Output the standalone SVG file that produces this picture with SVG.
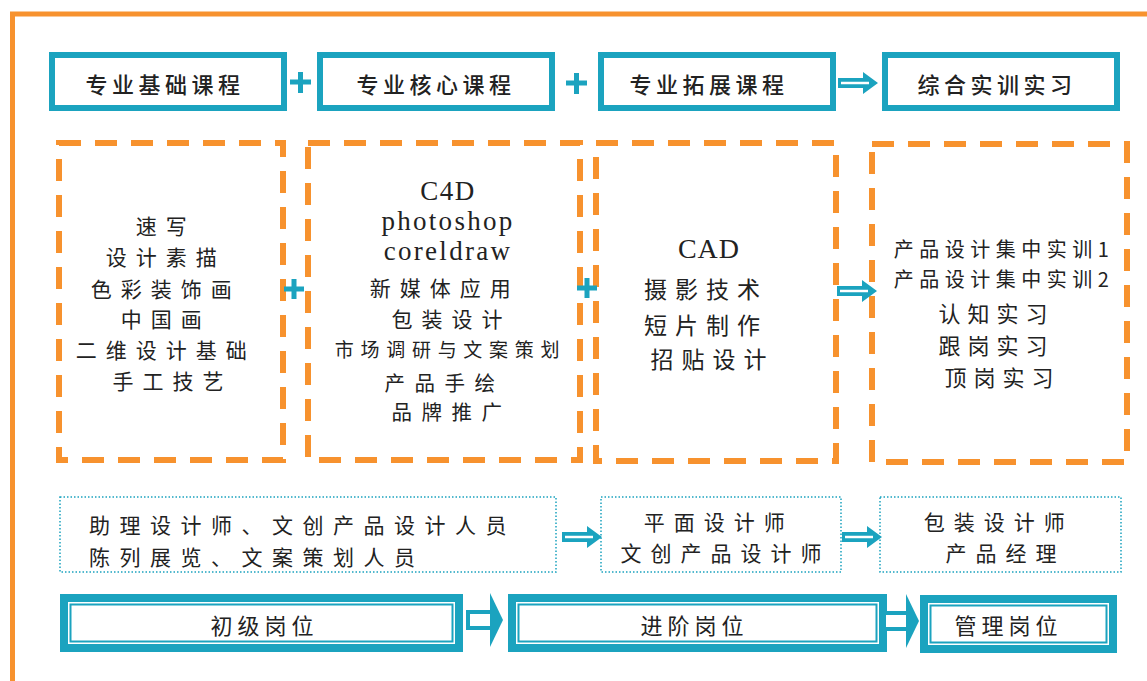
<svg xmlns="http://www.w3.org/2000/svg" xmlns:xlink="http://www.w3.org/1999/xlink" width="1147" height="681" viewBox="0 0 1147 681">
<defs>
<style>
.cn{font-family:"Noto Sans CJK SC","Noto Sans",sans-serif;fill:#222;text-anchor:middle;dominant-baseline:central}
.lat{font-family:"Liberation Serif",serif;fill:#222;text-anchor:middle;dominant-baseline:central}
.top{fill:#fff;stroke:#1ba3bf;stroke-width:6}
.dash{fill:none;stroke:#f7922e;stroke-width:6;stroke-dasharray:22 14}
.dot{fill:none;stroke:#1ba3bf;stroke-width:1.5;stroke-dasharray:1.5 2}
.bigo{fill:#fff;stroke:#1ba3bf;stroke-width:8}
.bigi{fill:none;stroke:#1ba3bf;stroke-width:2}
.plus{stroke:#1ba3bf;stroke-width:5;fill:none}
</style>
<g id="arr">
<polygon points="0,-5 25,-5 25,-11 40,0 25,11 25,5 0,5" fill="#1ba3bf"/>
<line x1="3" y1="0" x2="31" y2="0" stroke="#fff" stroke-width="2.5"/>
</g>
<g id="barr">
<rect x="2" y="-8" width="24" height="16" fill="#fff" stroke="#1ba3bf" stroke-width="4"/>
<polygon points="24,-27 37,0 24,27" fill="#1ba3bf"/>
</g>
</defs>
<rect width="1147" height="681" fill="#fff"/>
<path d="M12.5,681 V14 H1147" fill="none" stroke="#f7922e" stroke-width="5"/>

<g id="n-top1"><rect class="top" x="52" y="55" width="232" height="53"/><text class="cn" x="165" y="83" font-size="22" font-weight="500" letter-spacing="4.5">专业基础课程</text></g>
<g id="n-top2"><rect class="top" x="320" y="55" width="232" height="53"/><text class="cn" x="436" y="83" font-size="22" font-weight="500" letter-spacing="4.5">专业核心课程</text></g>
<g id="n-top3"><rect class="top" x="601" y="55" width="232" height="53"/><text class="cn" x="709" y="83" font-size="22" font-weight="500" letter-spacing="4.5">专业拓展课程</text></g>
<g id="n-top4"><rect class="top" x="885" y="55" width="232" height="53"/><text class="cn" x="997" y="83" font-size="22" font-weight="500" letter-spacing="4.5">综合实训实习</text></g>

<g id="n-a"><rect class="dash" x="59" y="143" width="224" height="317"/>
<text class="cn" font-size="21" letter-spacing="9">
<tspan x="172.5" y="225">速写</tspan>
<tspan x="172.5" y="256">设计素描</tspan>
<tspan x="172.5" y="288">色彩装饰画</tspan>
<tspan x="172.5" y="318">中国画</tspan>
<tspan x="172.5" y="349">二维设计基础</tspan>
<tspan x="172.5" y="380">手工技艺</tspan>
</text></g>

<g id="n-b"><rect class="dash" x="308" y="143" width="272" height="317"/>
<text class="lat" font-size="27" letter-spacing="1.5"><tspan x="448" y="191">C4D</tspan></text>
<text class="lat" font-size="27" letter-spacing="2.3"><tspan x="448" y="221">photoshop</tspan><tspan x="448" y="251">coreldraw</tspan></text>
<text class="cn" font-size="21" letter-spacing="9">
<tspan x="451.5" y="287">新媒体应用</tspan>
<tspan x="451.5" y="318">包装设计</tspan>
</text>
<text class="cn" font-size="19" letter-spacing="6.7"><tspan x="450.5" y="348">市场调研与文案策划</tspan></text>
<text class="cn" font-size="20.5" letter-spacing="9.5">
<tspan x="451.5" y="382">产品手绘</tspan>
<tspan x="451.5" y="411">品牌推广</tspan>
</text></g>

<g id="n-c"><rect class="dash" x="596" y="143" width="240" height="318"/>
<text class="lat" font-size="28" letter-spacing="1"><tspan x="709" y="248">CAD</tspan></text>
<text class="cn" font-size="23" letter-spacing="8">
<tspan x="712.5" y="288">摄影技术</tspan>
<tspan x="712.5" y="324">短片制作</tspan>
<tspan x="712.5" y="358">招贴设计</tspan>
</text></g>

<g id="n-d"><rect class="dash" x="872" y="144" width="255" height="318"/>
<text class="cn" font-size="20" letter-spacing="5.5"><tspan x="1004" y="248">产品设计集中实训1</tspan><tspan x="1004" y="278">产品设计集中实训2</tspan></text>
<text class="cn" font-size="22" letter-spacing="7">
<tspan x="1002.5" y="312">认知实习</tspan>
<tspan x="1002.5" y="344">跟岗实习</tspan>
<tspan x="1002.5" y="376">顶岗实习</tspan>
</text></g>

<g id="n-e"><rect class="dot" x="60" y="497" width="496" height="75"/>
<text class="cn" font-size="21" letter-spacing="9.5" style="text-anchor:start">
<tspan x="89" y="524">助理设计师、文创产品设计人员</tspan>
<tspan x="89" y="556">陈列展览、文案策划人员</tspan>
</text></g>
<g id="n-f"><rect class="dot" x="601" y="497" width="240" height="75"/>
<text class="cn" font-size="21" letter-spacing="9">
<tspan x="725.5" y="521">平面设计师</tspan>
<tspan x="725.5" y="552">文创产品设计师</tspan>
</text></g>
<g id="n-g"><rect class="dot" x="880" y="497" width="241" height="75"/>
<text class="cn" font-size="21" letter-spacing="9">
<tspan x="1005.5" y="521">包装设计师</tspan>
<tspan x="1005.5" y="552">产品经理</tspan>
</text></g>

<g id="n-h"><rect class="bigo" x="64" y="598" width="395" height="50"/><rect class="bigi" x="70.5" y="604.5" width="382" height="37"/>
<text class="cn" x="264.5" y="624" font-size="22" letter-spacing="5">初级岗位</text></g>
<g id="n-i"><rect class="bigo" x="512" y="598" width="371" height="50"/><rect class="bigi" x="518.5" y="604.5" width="358" height="37"/>
<text class="cn" x="694.5" y="624" font-size="22" letter-spacing="5">进阶岗位</text></g>
<g id="n-j"><rect class="bigo" x="924" y="599" width="189" height="50"/><rect class="bigi" x="930.5" y="605.5" width="176" height="37"/>
<text class="cn" x="1008.5" y="624" font-size="22" letter-spacing="5">管理岗位</text></g>

<g id="connectors">
<path class="plus" d="M290,82 h21 M300.5,72 v21"/>
<path class="plus" d="M566,83 h21 M576.5,73 v21"/>
<use xlink:href="#arr" x="838" y="83"/>
<path class="plus" d="M284,289 h20 M294,279 v20" stroke-width="4"/>
<path class="plus" d="M577,288 h20 M587,278 v20" stroke-width="4"/>
<use xlink:href="#arr" x="837" y="291"/>
<use xlink:href="#arr" x="562" y="537"/>
<use xlink:href="#arr" x="842" y="537"/>
<use xlink:href="#barr" x="466" y="620"/>
<use xlink:href="#barr" x="882" y="621"/>
</g>
</svg>
